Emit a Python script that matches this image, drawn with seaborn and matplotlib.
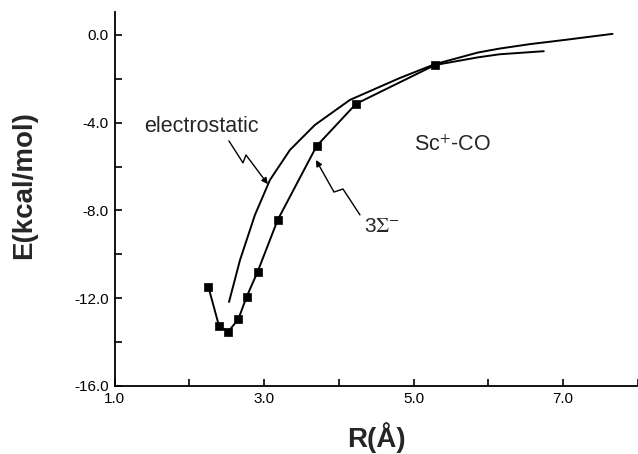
import matplotlib
matplotlib.use('Agg')
import matplotlib.pyplot as plt
from matplotlib.patches import FancyArrowPatch
from matplotlib.path import Path
import seaborn as sns

# 3Sigma- state, computed points (squares)
sigma_r = [2.254, 2.397, 2.521, 2.655, 2.767, 2.914, 3.182, 3.703, 4.229, 5.285]
sigma_e = [-11.47, -13.26, -13.52, -12.96, -11.93, -10.79, -8.43, -5.06, -3.14, -1.37]
# continuation of the 3Sigma- curve past the last point
sigma_tail_r = [5.86, 6.15, 6.74]
sigma_tail_e = [-1.02, -0.88, -0.74]

# electrostatic model curve
elec_r = [2.531, 2.678, 2.878, 3.078, 3.346, 3.680, 4.148, 4.816, 5.285, 5.86, 6.15, 6.55, 7.01, 7.66]
elec_e = [-12.17, -10.26, -8.20, -6.61, -5.24, -4.10, -2.96, -1.96, -1.33, -0.80, -0.62, -0.42, -0.23, 0.05]

x_ticks = [1, 2, 3, 4, 5, 6, 7, 8]
x_labels = ['1.0', '', '3.0', '', '5.0', '', '7.0', '']
y_ticks = [0, -2, -4, -6, -8, -10, -12, -14, -16]
y_labels = ['0.0', '', '-4.0', '', '-8.0', '', '-12.0', '', '-16.0']

sns.set_style('ticks')
plt.rcParams['font.family'] = ['Liberation Sans', 'DejaVu Sans']
plt.rcParams['mathtext.fontset'] = 'stix'

fig = plt.figure(figsize=(6.38, 4.54), dpi=100)
ax = fig.add_axes([0.1795, 0.1498, 0.8205, 0.8244])

sns.lineplot(x=sigma_r + sigma_tail_r, y=sigma_e + sigma_tail_e, color='black', lw=1.4, ax=ax)
sns.scatterplot(x=sigma_r, y=sigma_e, marker='s', s=38, color='black', edgecolor='black', ax=ax, zorder=5)
sns.lineplot(x=elec_r, y=elec_e, color='black', lw=1.4, ax=ax)

ax.set_xlim(1, 8)
ax.set_ylim(-16, 1.06)
ax.set_xticks(x_ticks)
ax.set_xticklabels(x_labels)
ax.set_yticks(y_ticks)
ax.set_yticklabels(y_labels)
ax.tick_params(direction='in', length=5, width=1.2, labelsize=11, colors='black', pad=4)
for s in ['left', 'bottom']:
    ax.spines[s].set_linewidth(1.3)
    ax.spines[s].set_color('black')
sns.despine(ax=ax)

ax.set_xlabel('R(Å)', fontsize=20, fontweight='bold', labelpad=12)
ax.set_ylabel('E(kcal/mol)', fontsize=20, fontweight='bold')
ax.yaxis.set_label_coords(-0.148, 0.537)

# annotations
ax.text(2.156, -4.19, 'electrostatic', fontsize=15.5, ha='center', va='center')
ax.text(4.576, -8.71, r'3$\Sigma^{-}$', fontsize=15, ha='center', va='center')
ax.text(5.525, -5.06, r'Sc$^{+}$-CO', fontsize=15.5, ha='center', va='center')

def squiggle(pts):
    arr = FancyArrowPatch(path=Path(pts), arrowstyle='-|>', mutation_scale=9,
                          color='black', lw=1.0)
    ax.add_patch(arr)

squiggle([(2.53, -4.83), (2.718, -5.83), (2.758, -5.47), (3.05, -6.80)])
squiggle([(4.282, -8.20), (4.055, -7.02), (3.935, -7.16), (3.694, -5.70)])

fig.savefig('out.png', dpi=100)
